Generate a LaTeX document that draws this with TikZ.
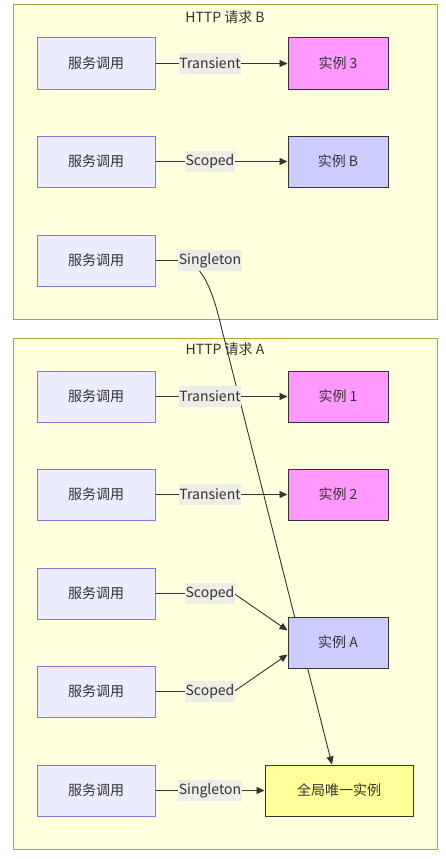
\documentclass[tikz,border=0pt]{standalone}
\usepackage{fontspec}
\setmainfont{Noto Sans CJK SC}
\usetikzlibrary{arrows.meta}
\definecolor{clfill}{HTML}{FFFFDE}
\definecolor{cldraw}{HTML}{AAAA33}
\definecolor{svfill}{HTML}{ECECFF}
\definecolor{svdraw}{HTML}{9370DB}
\definecolor{pink}{HTML}{FF99FF}
\definecolor{lav}{HTML}{CCCCFF}
\definecolor{yel}{HTML}{FFFF99}
\definecolor{dk}{HTML}{333333}
\definecolor{lblbg}{HTML}{EDEDE6}
\pgfdeclarelayer{bg}
\pgfdeclarelayer{edges}
\pgfsetlayers{bg,edges,main}
\tikzset{
  every node/.style={font=\fontsize{14}{17}\selectfont, text=dk},
  cluster/.style={draw=cldraw, fill=clfill, line width=1pt},
  svc/.style={draw=svdraw, fill=svfill, line width=1pt, minimum width=118pt, minimum height=51pt, inner sep=0pt},
  inst/.style={draw=dk, line width=1pt, minimum width=100pt, minimum height=51pt, inner sep=0pt},
  lbl/.style={fill=lblbg, inner xsep=0.5pt, inner ysep=0pt, minimum height=21pt},
  edge/.style={draw=dk, line width=0.9pt, -{Triangle[length=8pt,width=7pt]}},
}
\begin{document}
\begin{tikzpicture}[x=1pt,y=-1pt]
\useasboundingbox (0,0) rectangle (446,859);
\begin{pgfonlayer}{bg}
\fill[white] (0,0) rectangle (446,859);
\draw[cluster] (13,5) rectangle (437,319);
\draw[cluster] (13,338) rectangle (437,849);
\end{pgfonlayer}
\node (tB) at (225,17) {HTTP 请求 B};
\node (tA) at (225,349) {HTTP 请求 A};
% cluster B
\node[svc] (s1) at (96,63.5) {服务调用};
\node[svc] (s2) at (96,161.5) {服务调用};
\node[svc] (s3) at (96,260.5) {服务调用};
\node[inst, fill=pink] (i3) at (338,63.5) {实例 3};
\node[inst, fill=lav] (iB) at (338,161.5) {实例 B};
% cluster A
\node[svc] (s4) at (96,396.5) {服务调用};
\node[svc] (s5) at (96,494.5) {服务调用};
\node[svc] (s6) at (96,593.5) {服务调用};
\node[svc] (s7) at (96,691.5) {服务调用};
\node[svc] (s8) at (96,790.5) {服务调用};
\node[inst, fill=pink] (i1) at (338,396.5) {实例 1};
\node[inst, fill=pink] (i2) at (338,494.5) {实例 2};
\node[inst, fill=lav] (iA) at (338,642.5) {实例 A};
\node[inst, fill=yel, minimum width=148pt] (g) at (339,790.5) {全局唯一实例};
% edges
\coordinate (k3) at (180,260.5);
\coordinate (k6) at (234,593.5);
\coordinate (k7) at (234,691.5);
\begin{pgfonlayer}{edges}
\draw[edge] (s1.east) -- (i3.west);
\draw[edge] (s2.east) -- (iB.west);
\draw[edge] (s4.east) -- (i1.west);
\draw[edge] (s5.east) -- (i2.west);
\draw[edge] (s6.east) -- (k6) -- ([yshift=12pt]iA.west);
\draw[edge] (s7.east) -- (k7) -- ([yshift=-12pt]iA.west);
\draw[edge] (s8.east) -- (g.west);
\draw[edge] (s3.east) -- (k3) .. controls (202,260.5) and (213,292) .. (221,326) -- ([xshift=-7pt]g.north);
\end{pgfonlayer}
% labels
\node[lbl] (l1) at (210,63.5) {Transient};
\node[lbl] (l2) at (210,161.5) {Scoped};
\node[lbl] (l3) at (210,260.5) {Singleton};
\node[lbl] (l4) at (210,396.5) {Transient};
\node[lbl] (l5) at (210,494.5) {Transient};
\node[lbl] (l6) at (210,593.5) {Scoped};
\node[lbl] (l7) at (210,691.5) {Scoped};
\node[lbl] (l8) at (210,790.5) {Singleton};
\end{tikzpicture}
\end{document}
